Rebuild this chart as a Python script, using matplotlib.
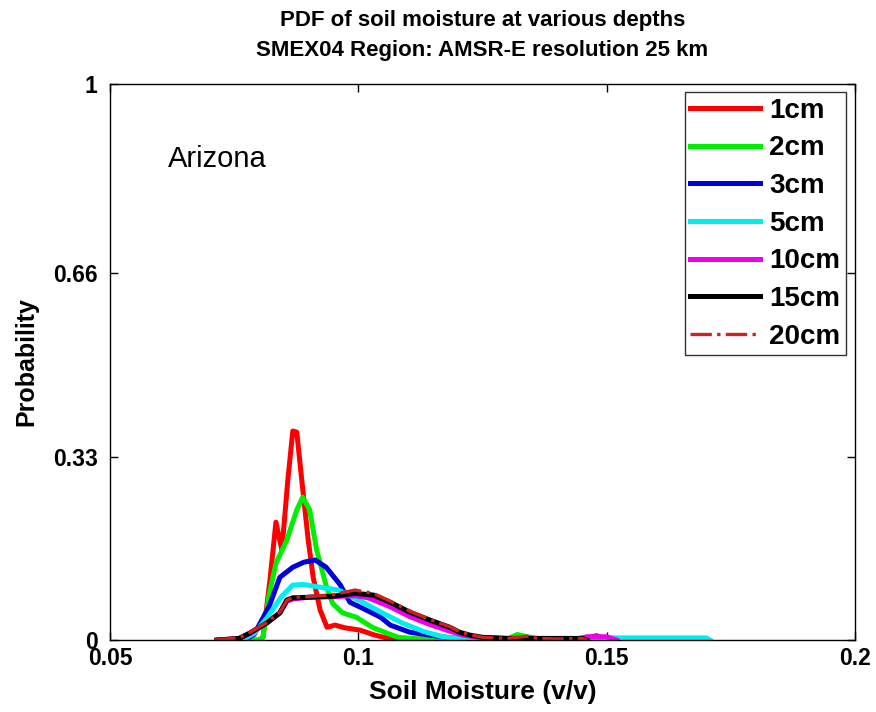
import matplotlib
matplotlib.use('Agg')
import matplotlib.pyplot as plt

plt.rcParams['font.family'] = ['Liberation Sans', 'DejaVu Sans']

# soil moisture (v/v) and probability
x_1cm = [0.0720, 0.0800, 0.0808, 0.0822, 0.0834, 0.0846, 0.0858, 0.0868, 0.0876, 0.0886,
         0.0899, 0.0909, 0.0923, 0.0937, 0.0953, 0.0973, 0.1003, 0.1033, 0.1060, 0.1100,
         0.1300, 0.1320, 0.1340, 0.1400, 0.1450, 0.1480, 0.1500]
p_1cm = [0.0, 0.0, 0.005, 0.108, 0.212, 0.162, 0.288, 0.376, 0.374, 0.288,
         0.180, 0.113, 0.054, 0.023, 0.027, 0.022, 0.018, 0.009, 0.003, 0.002,
         0.002, 0.008, 0.002, 0.001, 0.002, 0.008, 0.0]

x_2cm = [0.0720, 0.0800, 0.0808, 0.0820, 0.0834, 0.0856, 0.0876, 0.0888, 0.0902, 0.0916,
         0.0936, 0.0948, 0.0968, 0.0996, 0.1028, 0.1056, 0.1080, 0.1120, 0.1300, 0.1320,
         0.1340, 0.1380]
p_2cm = [0.0, 0.0, 0.005, 0.080, 0.138, 0.180, 0.234, 0.257, 0.234, 0.162,
         0.095, 0.066, 0.049, 0.041, 0.023, 0.013, 0.005, 0.002, 0.002, 0.010,
         0.006, 0.0]

x_3cm = [0.0720, 0.0770, 0.0790, 0.0820, 0.0842, 0.0868, 0.0890, 0.0913, 0.0935, 0.0963,
         0.0983, 0.1009, 0.1045, 0.1064, 0.1104, 0.1144, 0.1184, 0.1220, 0.1300, 0.1400,
         0.1460]
p_3cm = [0.0, 0.0, 0.010, 0.060, 0.113, 0.131, 0.140, 0.144, 0.131, 0.100,
         0.068, 0.057, 0.041, 0.027, 0.014, 0.009, 0.004, 0.002, 0.001, 0.002,
         0.0]

x_5cm = [0.0720, 0.0765, 0.0790, 0.0816, 0.0845, 0.0868, 0.0890, 0.0930, 0.0960, 0.0993,
         0.1013, 0.1050, 0.1090, 0.1130, 0.1170, 0.1200, 0.1300, 0.1460, 0.1500, 0.1600,
         0.1700, 0.1708]
p_5cm = [0.0, 0.0, 0.012, 0.040, 0.078, 0.099, 0.100, 0.094, 0.090, 0.075,
         0.066, 0.048, 0.030, 0.016, 0.006, 0.003, 0.002, 0.002, 0.004, 0.004,
         0.004, 0.0]

x_10cm = [0.0715, 0.0760, 0.0782, 0.0816, 0.0842, 0.0856, 0.0868, 0.0900, 0.0950, 0.0993,
          0.1020, 0.1064, 0.1104, 0.1144, 0.1184, 0.1210, 0.1240, 0.1300, 0.1440, 0.1460,
          0.1500, 0.1520]
p_10cm = [0.0, 0.003, 0.012, 0.031, 0.049, 0.070, 0.074, 0.077, 0.078, 0.080,
          0.076, 0.060, 0.042, 0.028, 0.016, 0.009, 0.005, 0.003, 0.002, 0.006,
          0.006, 0.0]

x_15cm = [0.0715, 0.0760, 0.0782, 0.0816, 0.0842, 0.0856, 0.0868, 0.0900, 0.0950, 0.0993,
          0.1030, 0.1064, 0.1104, 0.1144, 0.1184, 0.1204, 0.1224, 0.1250, 0.1300, 0.1400,
          0.1450, 0.1460]
p_15cm = [0.0, 0.003, 0.013, 0.031, 0.049, 0.072, 0.076, 0.077, 0.079, 0.084,
          0.081, 0.068, 0.050, 0.036, 0.023, 0.014, 0.009, 0.005, 0.003, 0.003,
          0.003, 0.0]

x_20cm = [0.0710, 0.0760, 0.0782, 0.0816, 0.0842, 0.0856, 0.0868, 0.0900, 0.0950, 0.0993,
          0.1030, 0.1064, 0.1104, 0.1144, 0.1184, 0.1204, 0.1224, 0.1250, 0.1300, 0.1340,
          0.1360, 0.1400, 0.1450, 0.1460]
p_20cm = [0.0, 0.004, 0.014, 0.032, 0.050, 0.071, 0.077, 0.078, 0.082, 0.090,
          0.084, 0.070, 0.052, 0.037, 0.024, 0.015, 0.010, 0.005, 0.003, 0.007,
          0.003, 0.002, 0.003, 0.0]

series = [
    ('1cm', x_1cm, p_1cm, '#ff0000', '-'),
    ('2cm', x_2cm, p_2cm, '#00ee00', '-'),
    ('3cm', x_3cm, p_3cm, '#0000dd', '-'),
    ('5cm', x_5cm, p_5cm, '#00eeee', '-'),
    ('10cm', x_10cm, p_10cm, '#ee00ee', '-'),
    ('15cm', x_15cm, p_15cm, '#000000', '-'),
    ('20cm', x_20cm, p_20cm, '#cc2222', '-.'),
]

x_ticks = [0.05, 0.1, 0.15, 0.2]
x_ticklabels = ['0.05', '0.1', '0.15', '0.2']
y_ticks = [0, 0.33, 0.66, 1]
y_ticklabels = ['0', '0.33', '0.66', '1']

fig = plt.figure(figsize=(8.76, 7.12), dpi=100)
ax = fig.add_axes([0.1256, 0.101, 0.8505, 0.781])

for name, xs, ps, col, ls in series:
    lw = 2.4 if ls == '-.' else 3.6
    ax.plot(xs, ps, color=col, linestyle=ls, linewidth=lw, label=name)

ax.set_xlim(0.05, 0.2)
ax.set_ylim(0, 1)
ax.set_xticks(x_ticks)
ax.set_xticklabels(x_ticklabels)
ax.set_yticks(y_ticks)
ax.set_yticklabels(y_ticklabels)
ax.tick_params(direction='in', top=True, right=True, length=6, width=1,
               labelsize=16.5)
ax.tick_params(axis='x', pad=5)
ax.tick_params(axis='y', pad=9)
for lab in ax.get_xticklabels() + ax.get_yticklabels():
    lab.set_fontweight('bold')
for s in ax.spines.values():
    s.set_linewidth(1)

ax.set_xlabel('Soil Moisture (v/v)', fontsize=19, fontweight='bold', labelpad=7)
ax.set_ylabel('Probability', fontsize=18, fontweight='bold', labelpad=10)
ax.set_title('PDF of soil moisture at various depths\nSMEX04 Region: AMSR-E resolution 25 km',
             fontsize=16, fontweight='bold', pad=20, linespacing=1.6)

ax.text(0.0617, 0.865, 'Arizona', fontsize=21, va='center', ha='left')

leg = ax.legend(loc='upper right', bbox_to_anchor=(0.988, 0.9856),
                prop={'weight': 'bold', 'size': 20}, frameon=True, fancybox=False,
                edgecolor='black', handlelength=2.5, handletextpad=0.35,
                labelspacing=0.42, borderpad=0.2, borderaxespad=0.0)
leg.get_frame().set_linewidth(1)

fig.savefig('out.png', dpi=100)
